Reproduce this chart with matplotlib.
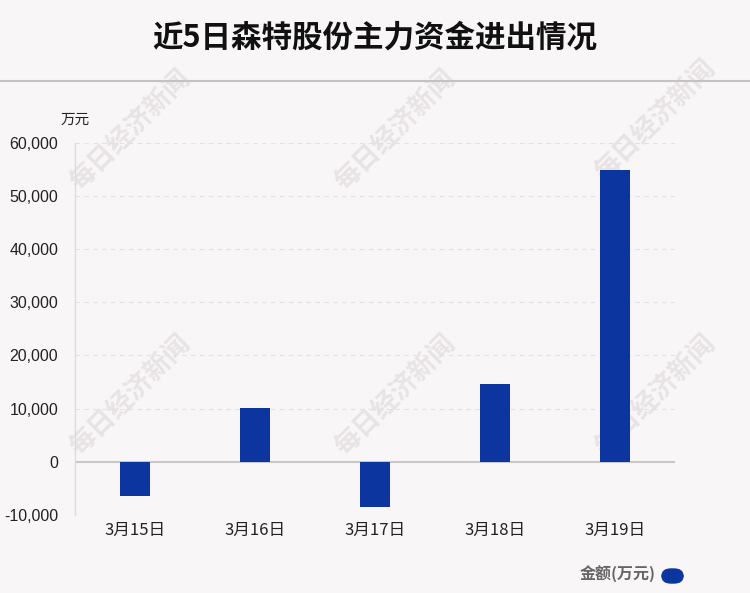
import matplotlib
matplotlib.use('Agg')
import matplotlib.pyplot as plt
from matplotlib.patches import FancyBboxPatch
from matplotlib.ticker import FuncFormatter

plt.rcParams['font.family'] = ['Liberation Sans', 'Noto Sans CJK SC', 'DejaVu Sans']

# ── Data ──────────────────────────────────────────────────────────────────────
dates = ['3月15日', '3月16日', '3月17日', '3月18日', '3月19日']
amounts = [-6450, 10050, -8450, 14600, 54950]   # 万元
y_ticks = [-10000, 0, 10000, 20000, 30000, 40000, 50000, 60000]

BG = '#f9f6f7'
BAR = '#0c35a0'
GRID = '#e2e0e1'
TEXT = '#222222'
CJK = ['Noto Sans CJK SC', 'DejaVu Sans']

fig = plt.figure(figsize=(7.5, 5.93), dpi=100)
fig.patch.set_facecolor(BG)

# header
fig.text(0.5, 1 - 38 / 593, '近5日森特股份主力资金进出情况', ha='center', va='center',
         fontsize=22, fontweight='bold', family=CJK, color='#111111')
fig.add_artist(plt.Line2D([0, 1], [1 - 81 / 593] * 2, color='#c4c2c3', lw=1.5))

# watermarks (behind the plot)
for wx, wy in [(130, 130), (395, 130), (655, 120), (130, 395), (395, 395), (655, 395)]:
    fig.text(wx / 750, 1 - wy / 593, '每日经济新闻', rotation=45, ha='center', va='center',
             fontsize=19, fontweight='bold', family=CJK, color='#e8e4e5', zorder=0.5)

ax = fig.add_axes([75 / 750, 1 - 515 / 593, 600 / 750, (515 - 142.7) / 593])
ax.set_zorder(1)
ax.set_facecolor('none')
x = range(len(dates))
ax.bar(x, amounts, width=0.25, color=BAR, zorder=3)

ax.set_xlim(-0.5, len(dates) - 0.5)
ax.set_ylim(-10000, 60000)
ax.set_yticks(y_ticks)
ax.yaxis.set_major_formatter(FuncFormatter(lambda v, _: f'{int(v):,}'))
ax.set_xticks(list(x))
ax.set_xticklabels(dates, family=CJK, fontsize=12, color=TEXT)
ax.tick_params(axis='y', labelsize=11.5, labelcolor=TEXT, length=0, pad=12)
ax.tick_params(axis='x', length=0, pad=5)

for v in y_ticks:
    if v != 0:
        ax.axhline(v, color=GRID, lw=0.8, ls=(0, (4, 4)), zorder=1)
ax.axhline(0, color='#c8c8c8', lw=1.5, zorder=2)

for s in ['top', 'right', 'bottom']:
    ax.spines[s].set_visible(False)
ax.spines['left'].set_color('#dcdcdc')
ax.spines['left'].set_linewidth(1)

fig.text(75 / 750, 1 - 120 / 593, '万元', ha='center', va='center', fontsize=10.5,
         family=CJK, color=TEXT)

# legend
fig.text(656 / 750, 1 - 574 / 593, '金额(万元)', ha='right', va='center', fontsize=11.5,
         fontweight='bold', family=CJK, color='#666666')
fig.add_artist(FancyBboxPatch((662 / 750, 1 - 583 / 593), 21 / 750, 14 / 593,
                              boxstyle='round,pad=0,rounding_size=0.012',
                              transform=fig.transFigure, color=BAR))

fig.savefig('out.png', dpi=100, facecolor=BG)
